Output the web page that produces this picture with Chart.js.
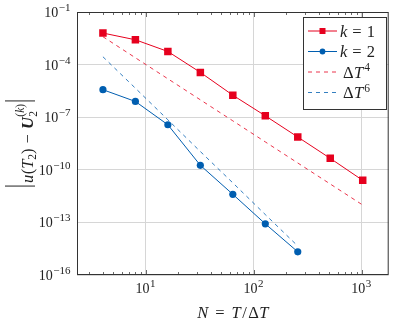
<!DOCTYPE html>
<html>
<head>
<meta charset="utf-8">
<script src="https://cdn.jsdelivr.net/npm/chart.js@4.4.0/dist/chart.umd.min.js"></script>
<style>
html, body { margin: 0; padding: 0; background: #fff; }
#chart { display: block; }
</style>
</head>
<body>
<canvas id="chart" width="394" height="327"></canvas>
<script>
// values (log-log)
const stepsK1 = [4, 8, 16, 32, 64, 128, 256, 512, 1024];
const errK1 = [6.3e-3, 2.6e-3, 5.6e-4, 3.6e-5, 1.8e-6, 1.2e-7, 7.4e-9, 4.5e-10, 2.5e-11];
const stepsK2 = [4, 8, 16, 32, 64, 128, 256];
const errK2 = [3.7e-6, 7.9e-7, 3.7e-8, 1.8e-10, 4.0e-12, 8.3e-14, 2.1e-15];
const refOrder4 = [3.9e-3, 2.45e-4, 1.55e-5, 9.8e-7, 6.2e-8, 3.9e-9, 2.45e-10, 1.55e-11, 9.8e-13];
const refOrder6 = [2.8e-4, 4.5e-6, 7.1e-8, 1.1e-9, 1.8e-11, 2.8e-13, 4.5e-15];
const xTicks = [10, 100, 1000];
const yTicks = [1e-16, 1e-13, 1e-10, 1e-7, 1e-4, 1e-1];

const red = 'rgb(230, 0, 30)';
const blue = 'rgb(0, 94, 176)';
const serif = '"Liberation Serif", "DejaVu Serif", serif';
const ink = '#222';

function pts(xs, ys) {
    return xs.map((x, i) => ({ x: x, y: ys[i] }));
}

function drawRuns(ctx, parts, x, y, align) {
    let w = 0;
    parts.forEach(p => {
        ctx.font = p.font;
        p.w = ctx.measureText(p.t).width;
        w += (p.adv !== undefined ? p.adv : p.w) + (p.gap || 0);
    });
    let cx = align === 'right' ? x - w : align === 'center' ? x - w / 2 : x;
    parts.forEach(p => {
        ctx.font = p.font;
        ctx.fillText(p.t, cx + (p.dx || 0), y + (p.dy || 0));
        cx += (p.adv !== undefined ? p.adv : p.w) + (p.gap || 0);
    });
    return w;
}

function powerLabel(exp) {
    const s = exp < 0 ? '\u2212' + Math.abs(exp) : String(exp);
    return [
        { t: '10', font: '14px ' + serif, gap: 0.5 },
        { t: s, font: '11px ' + serif, dy: -6, gap: 0.5 }
    ];
}

const it = 'italic 16.5px ' + serif;
const rm = '16.5px ' + serif;
const sm = '11.5px ' + serif;
const smIt = 'italic 11.5px ' + serif;

const decorPlugin = {
    id: 'decor',
    afterDraw(chart) {
        const ctx = chart.ctx;
        const area = chart.chartArea;
        const xs = chart.scales.x;
        const ys = chart.scales.y;
        ctx.save();
        ctx.fillStyle = ink;
        ctx.textBaseline = 'alphabetic';

        // minor ticks on the log x axis
        ctx.strokeStyle = '#444';
        ctx.lineWidth = 0.8;
        ctx.beginPath();
        [1, 10, 100, 1000].forEach(d => {
            for (let m = 1; m <= 9; m++) {
                const v = m * d;
                if (v <= xs.min || v >= xs.max) continue;
                const px = Math.round(xs.getPixelForValue(v)) + 0.5;
                const len = m === 1 ? 5 : 3;
                ctx.moveTo(px, area.bottom);
                ctx.lineTo(px, area.bottom - len);
                ctx.moveTo(px, area.top);
                ctx.lineTo(px, area.top + len);
            }
        });
        ctx.stroke();

        // frame
        ctx.strokeStyle = '#333';
        ctx.lineWidth = 1;
        ctx.strokeRect(area.left + 0.5, area.top + 0.5, area.right - area.left - 1, area.bottom - area.top - 1);

        // tick labels
        yTicks.forEach(v => {
            const py = ys.getPixelForValue(v);
            drawRuns(ctx, powerLabel(Math.round(Math.log10(v))), 71, py + 5, 'right');
        });
        xTicks.forEach(v => {
            const px = xs.getPixelForValue(v);
            drawRuns(ctx, powerLabel(Math.round(Math.log10(v))), px, 293, 'center');
        });

        // x title
        drawRuns(ctx, [
            { t: 'N', font: it, gap: 7 },
            { t: '=', font: rm, gap: 7 },
            { t: 'T', font: it, gap: 1.5 },
            { t: '/', font: rm, gap: 1.5 },
            { t: '\u0394', font: rm, gap: 0.5 },
            { t: 'T', font: it }
        ], (area.left + area.right) / 2, 318, 'center');

        // y title, rotated
        ctx.translate(33, (area.top + area.bottom) / 2);
        ctx.rotate(-Math.PI / 2);
        const w = drawRuns(ctx, [
            { t: 'u', font: it, gap: 0.5 },
            { t: '(', font: rm },
            { t: 'T', font: it },
            { t: '2', font: sm, dy: 3 },
            { t: ')', font: rm, gap: 5 },
            { t: '\u2212', font: rm, gap: 5 },
            { t: 'U', font: 'bold italic 16.5px ' + serif, gap: 0.5 },
            { t: '2', font: sm, dy: 3.5, adv: 0 },
            { t: '(', font: sm, dy: -9.5 },
            { t: 'k', font: smIt, dy: -9.5 },
            { t: ')', font: sm, dy: -9.5 }
        ], 0, 0, 'center');
        ctx.strokeStyle = ink;
        ctx.lineWidth = 1;
        ctx.beginPath();
        ctx.moveTo(-w / 2 - 3, -28);
        ctx.lineTo(-w / 2 - 3, 2);
        ctx.moveTo(w / 2 + 3, -28);
        ctx.lineTo(w / 2 + 3, 2);
        ctx.stroke();
        ctx.restore();

        // legend
        ctx.save();
        ctx.fillStyle = '#fff';
        ctx.fillRect(303.5, 17.5, 83, 92);
        ctx.strokeStyle = '#333';
        ctx.lineWidth = 1;
        ctx.strokeRect(303.5, 17.5, 83, 92);
        const rows = [31, 51.5, 72, 92.5];
        chart.data.datasets.forEach((ds, i) => {
            const ry = rows[i];
            ctx.strokeStyle = ds.borderColor;
            ctx.lineWidth = ds.borderWidth;
            ctx.setLineDash(ds.borderDash || []);
            ctx.beginPath();
            ctx.moveTo(308, ry);
            ctx.lineTo(337, ry);
            ctx.stroke();
            ctx.setLineDash([]);
            ctx.fillStyle = ds.borderColor;
            if (ds.pointStyle === 'rect') {
                ctx.fillRect(319.5, ry - 3, 6, 6);
            } else if (ds.pointRadius > 0) {
                ctx.beginPath();
                ctx.arc(322.5, ry, 2.9, 0, Math.PI * 2);
                ctx.fill();
            }
            ctx.fillStyle = ink;
            drawRuns(ctx, ds.richLabel, 340, ry + 5.5, 'left');
        });
        ctx.restore();
    }
};

new Chart(document.getElementById('chart'), {
    type: 'line',
    data: {
        datasets: [
            {
                label: 'k = 1',
                richLabel: [{ t: 'k', font: it, gap: 5 }, { t: '=', font: rm, gap: 5 }, { t: '1', font: rm }],
                data: pts(stepsK1, errK1),
                borderColor: red,
                backgroundColor: red,
                borderWidth: 1,
                pointStyle: 'rect',
                pointRadius: 5.3,
                pointBorderWidth: 0
            },
            {
                label: 'k = 2',
                richLabel: [{ t: 'k', font: it, gap: 5 }, { t: '=', font: rm, gap: 5 }, { t: '2', font: rm }],
                data: pts(stepsK2, errK2),
                borderColor: blue,
                backgroundColor: blue,
                borderWidth: 1,
                pointStyle: 'circle',
                pointRadius: 3.6,
                pointBorderWidth: 0
            },
            {
                label: '\u0394T^4',
                richLabel: [{ t: '\u0394', font: rm, dx: 3, gap: 0.5 }, { t: 'T', font: it, dx: 3, gap: 1 }, { t: '4', font: sm, dy: -6.5, dx: 3 }],
                data: pts(stepsK1, refOrder4),
                borderColor: red,
                borderWidth: 0.8,
                borderDash: [4, 4],
                pointRadius: 0
            },
            {
                label: '\u0394T^6',
                richLabel: [{ t: '\u0394', font: rm, dx: 3, gap: 0.5 }, { t: 'T', font: it, dx: 3, gap: 1 }, { t: '6', font: sm, dy: -6.5, dx: 3 }],
                data: pts(stepsK2, refOrder6),
                borderColor: blue,
                borderWidth: 0.8,
                borderDash: [4, 4],
                pointRadius: 0
            }
        ]
    },
    options: {
        responsive: false,
        animation: false,
        devicePixelRatio: 1,
        layout: { padding: { left: 0, top: 12, right: 1, bottom: 0 } },
        plugins: { legend: { display: false }, tooltip: { enabled: false } },
        elements: { line: { tension: 0 } },
        scales: {
            x: {
                type: 'logarithmic',
                min: 2.3,
                max: 1783,
                afterBuildTicks: scale => { scale.ticks = xTicks.map(v => ({ value: v })); },
                afterFit: scale => { scale.height = 52; },
                ticks: { display: false },
                grid: { color: '#d6d6d6', lineWidth: 1, drawTicks: false },
                border: { display: false }
            },
            y: {
                type: 'logarithmic',
                min: 1e-16,
                max: 1e-1,
                afterBuildTicks: scale => { scale.ticks = yTicks.map(v => ({ value: v })); },
                afterFit: scale => { scale.width = 77; },
                ticks: { display: false },
                grid: { color: '#d6d6d6', lineWidth: 1, drawTicks: false },
                border: { display: false }
            }
        }
    },
    plugins: [decorPlugin]
});
</script>
</body>
</html>
